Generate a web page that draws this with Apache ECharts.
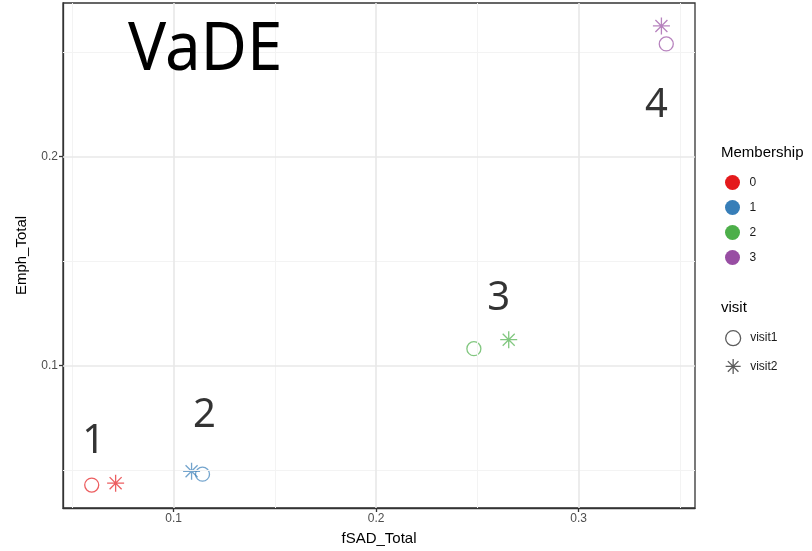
<!DOCTYPE html>
<html>
<head>
<meta charset="utf-8">
<script src="https://cdn.jsdelivr.net/npm/echarts@6/dist/echarts.min.js"></script>
<style>
  html, body { margin: 0; padding: 0; background: #fff; }
  #chart { width: 812px; height: 551px; }
</style>
</head>
<body>
<div id="chart"></div>
<script>
// Cluster centres per membership group at two visits
const memberships = ['0', '1', '2', '3'];
const groupColors = ['#E41A1C', '#377EB8', '#4DAF4A', '#984EA3'];
const visit1X = [0.0596, 0.1143, 0.2483, 0.3433];
const visit1Y = [0.0429, 0.0481, 0.1081, 0.2538];
const visit2X = [0.0714, 0.1089, 0.2655, 0.3409];
const visit2Y = [0.0438, 0.0495, 0.1124, 0.2624];
const visitNames = ['visit1', 'visit2'];

// Group number annotations (data coordinates)
const groupLabels = ['1', '2', '3', '4'];
const groupLabelX = [0.0606, 0.1153, 0.2606, 0.3384];
const groupLabelY = [0.0638, 0.0763, 0.1318, 0.2242];

// Tick and grid positions
const xTicks = [0.1, 0.2, 0.3];
const yTicks = [0.1, 0.2];
const xMinor = [0.05, 0.15, 0.25, 0.35];
const yMinor = [0.05, 0.15, 0.25];

const FONT = 'Liberation Sans, Arial, sans-serif';
const STAR = 'path://M10,0L10,20M0,10L20,10M2.93,2.93L17.07,17.07M2.93,17.07L17.07,2.93';

// 5% padding around the data range, like ggplot's default expansion
function paddedRange(a, b) {
  const all = a.concat(b);
  const lo = Math.min.apply(null, all), hi = Math.max.apply(null, all);
  const pad = (hi - lo) * 0.05;
  return [lo - pad, hi + pad];
}
const xRange = paddedRange(visit1X, visit2X);
const yRange = paddedRange(visit1Y, visit2Y);

const chart = echarts.init(document.getElementById('chart'), null, { renderer: 'canvas' });

const minorStyle = { color: '#F3F3F3', width: 1, type: 'solid' };
const majorStyle = { color: '#E8E8E8', width: 1.6, type: 'solid' };
const gridLines = []
  .concat(xMinor.map(v => ({ xAxis: v, lineStyle: minorStyle })))
  .concat(yMinor.map(v => ({ yAxis: v, lineStyle: minorStyle })))
  .concat(xTicks.map(v => ({ xAxis: v, lineStyle: majorStyle })))
  .concat(yTicks.map(v => ({ yAxis: v, lineStyle: majorStyle })));

const groupSeries = memberships.map((m, i) => ({
  name: m,
  type: 'scatter',
  z: 3,
  itemStyle: { color: groupColors[i], opacity: 1 },
  emphasis: { disabled: true },
  data: [
    {
      value: [visit1X[i], visit1Y[i]],
      symbol: 'circle',
      symbolSize: 14,
      itemStyle: { color: 'transparent', borderColor: groupColors[i], borderWidth: 1.3, opacity: 0.7 }
    },
    {
      value: [visit2X[i], visit2Y[i]],
      symbol: STAR,
      symbolSize: 17,
      itemStyle: { color: 'transparent', borderColor: groupColors[i], borderWidth: 1.3, opacity: 0.7 }
    }
  ]
}));

const option = {
  animation: false,
  backgroundColor: '#fff',
  grid: {
    left: 63, top: 3, right: 117, bottom: 41,
    show: true, borderColor: '#333', borderWidth: 1.3, backgroundColor: '#fff'
  },
  graphic: [
    {
      type: 'text', x: 128, y: 17, z: 10, scaleX: 0.95,
      style: { text: 'VaDE', font: '67px "Noto Sans", sans-serif', fill: '#000' }
    },
    {
      type: 'text', left: 721, top: 145,
      style: { text: 'Membership', font: '15px ' + FONT, fill: '#000' }
    },
    {
      type: 'text', left: 721, top: 300,
      style: { text: 'visit', font: '15px ' + FONT, fill: '#000' }
    }
  ],
  xAxis: {
    type: 'value',
    min: xRange[0], max: xRange[1],
    splitLine: { show: false },
    axisLine: { show: true, lineStyle: { color: '#333', width: 1.3 } },
    axisTick: { show: true, customValues: xTicks, length: 4, lineStyle: { color: '#333', width: 1.3 } },
    axisLabel: {
      customValues: xTicks, fontSize: 12, color: '#4D4D4D', fontFamily: FONT, margin: 5,
      formatter: v => v.toFixed(1)
    },
    name: 'fSAD_Total', nameLocation: 'middle', nameGap: 23,
    nameTextStyle: { fontSize: 15, color: '#000', fontFamily: FONT }
  },
  yAxis: {
    type: 'value',
    min: yRange[0], max: yRange[1],
    splitLine: { show: false },
    axisLine: { show: true, lineStyle: { color: '#333', width: 1.3 } },
    axisTick: { show: true, customValues: yTicks, length: 4, lineStyle: { color: '#333', width: 1.3 } },
    axisLabel: {
      customValues: yTicks, fontSize: 12, color: '#4D4D4D', fontFamily: FONT, margin: 5,
      formatter: v => v.toFixed(1)
    },
    name: 'Emph_Total', nameLocation: 'middle', nameGap: 34, nameRotate: 90,
    nameTextStyle: { fontSize: 15, color: '#000', fontFamily: FONT }
  },
  legend: [
    {
      orient: 'vertical', left: 720, top: 170,
      itemWidth: 24, itemHeight: 15, itemGap: 10,
      selectedMode: false,
      textStyle: { fontSize: 12, color: '#1A1A1A', fontFamily: FONT },
      data: memberships.map((m, i) => ({
        name: m, icon: 'circle',
        itemStyle: { color: groupColors[i], opacity: 1, borderWidth: 0 }
      }))
    },
    {
      orient: 'vertical', left: 720, top: 325,
      itemWidth: 24, itemHeight: 15, itemGap: 12,
      selectedMode: false,
      textStyle: { fontSize: 12, color: '#1A1A1A', fontFamily: FONT },
      data: [
        { name: visitNames[0], icon: 'circle', itemStyle: { color: 'transparent', borderColor: '#333', borderWidth: 1.3 } },
        { name: visitNames[1], icon: STAR, itemStyle: { color: 'transparent', borderColor: '#333', borderWidth: 1.3 } }
      ]
    }
  ],
  series: [
    {
      name: 'grid',
      type: 'scatter',
      z: 1,
      data: [],
      markLine: {
        silent: true, symbol: ['none', 'none'], animation: false,
        label: { show: false },
        data: gridLines
      }
    }
  ].concat(groupSeries).concat([
    { name: visitNames[0], type: 'scatter', data: [], itemStyle: { color: '#333' } },
    { name: visitNames[1], type: 'scatter', data: [], itemStyle: { color: '#333' } },
    {
      name: 'groups',
      type: 'scatter',
      z: 4,
      symbolSize: 0,
      silent: true,
      label: {
        show: true, position: 'inside', formatter: p => p.name,
        fontSize: 40, color: '#000', fontFamily: '"Noto Sans", sans-serif'
      },
      data: groupLabels.map((g, i) => ({ name: g, value: [groupLabelX[i], groupLabelY[i]] }))
    }
  ])
};

chart.setOption(option);
</script>
</body>
</html>
